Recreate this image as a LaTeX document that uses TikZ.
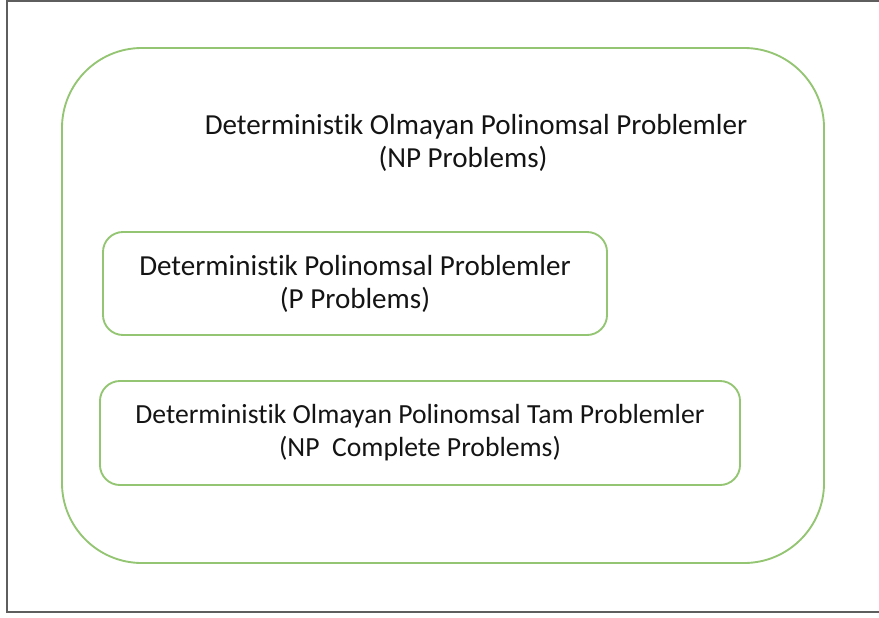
\documentclass[tikz,border=0pt]{standalone}
\usepackage{fontspec}
\setmainfont[Ligatures=CommonOff]{Carlito}
\definecolor{npgreen}{HTML}{93C572}
\definecolor{npframe}{HTML}{5E5E5E}
\definecolor{npink}{HTML}{141414}
\usetikzlibrary{positioning}

\begin{document}
\begin{tikzpicture}[
      x=0.03cm, y=-0.03cm,
      font=\fontsize{24.8}{28.2}\selectfont,
      outer/.style={rounded corners=2.4cm, draw=npgreen, line width=1.6pt,
                    minimum width=22.86cm, minimum height=15.45cm},
      inbox/.style={rounded corners=0.6cm, draw=npgreen, line width=1.6pt,
                    align=center, text=npink, inner sep=0pt},
      lbl/.style={align=center, text=npink, inner sep=0pt},
    ]
    \useasboundingbox (0,0) rectangle (879,617);

    % screenshot frame (open on the right)
    \draw[npframe, line width=1.8pt] (879,1) -- (7,1) -- (7,612) -- (879,612);

    \node[outer] (np) at (443,305.5) {};
    \node[lbl] (nptext) at (476,143)
      {Deterministik Olmayan Polinomsal Problemler\\(NP Problems)\hspace*{0.78cm}};

    \node[inbox, minimum width=15.12cm, minimum height=3.09cm]
      (p) at (355,283.5)
      {Deterministik Polinomsal Problemler\\(P Problems)};

    \node[inbox, minimum width=19.2cm, minimum height=3.12cm,
          font=\fontsize{23.6}{28.2}\selectfont]
      (npc) at (420,433)
      {Deterministik Olmayan Polinomsal Tam Problemler\\(NP\ \ Complete Problems)};

  \end{tikzpicture}
\end{document}
